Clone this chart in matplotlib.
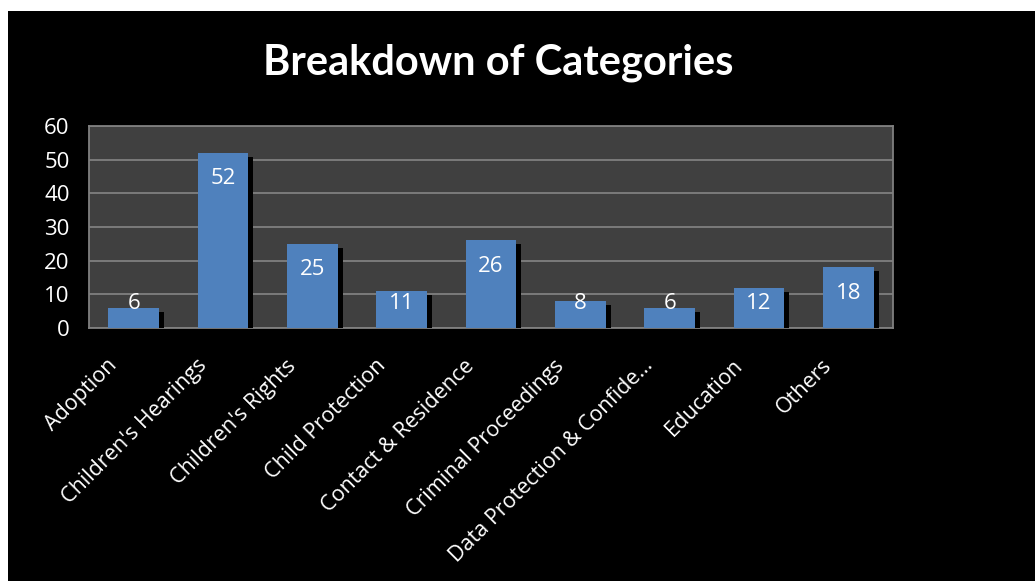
import matplotlib
matplotlib.use('Agg')
import matplotlib.pyplot as plt
import matplotlib.patches as patches
import matplotlib.patheffects as pe
from matplotlib.transforms import ScaledTranslation

categories = ['Adoption', "Children's Hearings", "Children's Rights", 'Child Protection',
              'Contact & Residence', 'Criminal Proceedings', 'Data Protection & Confide\u2026',
              'Education', 'Others']
counts = [6, 52, 25, 11, 26, 8, 6, 12, 18]
y_ticks = [0, 10, 20, 30, 40, 50, 60]

bar_color = '#4F81BD'
plot_bg = '#404040'
grid_color = '#808080'
font = 'Open Sans'

fig = plt.figure(figsize=(10.35, 5.81), dpi=100, facecolor='white')

# black slide background (thin white margin at top and left)
fig.patches.append(patches.Rectangle((8 / 1035, 0), 1, 570 / 581, transform=fig.transFigure,
                                     facecolor='black', edgecolor='none', zorder=-5))

ax = fig.add_axes([89 / 1035, 1 - 328 / 581, (893 - 89) / 1035, (328 - 126) / 581])
ax.set_facecolor(plot_bg)

x = list(range(len(categories)))
bars = ax.bar(x, counts, width=0.57, color=bar_color, zorder=3)
for b in bars:
    b.set_path_effects([pe.SimplePatchShadow(offset=(3.6, -2.9), shadow_rgbFace='black', alpha=1),
                        pe.Normal()])

ax.set_xlim(-0.5, len(categories) - 0.5)
ax.set_ylim(0, 60)
ax.set_yticks(y_ticks)
ax.yaxis.grid(True, color=grid_color, linewidth=1.3, zorder=1)
ax.set_axisbelow(True)
for s in ax.spines.values():
    s.set_color(grid_color)
    s.set_linewidth(1.3)

ax.tick_params(axis='y', length=0, pad=14, labelcolor='white', labelsize=16)
for lab in ax.get_yticklabels():
    lab.set_fontfamily(font)

# rotated category labels, right end just below-left of each bar
ax.set_xticks(x)
ax.set_xticklabels([])
ax.tick_params(axis='x', length=0)
offset = ScaledTranslation(-14 / 72, -25 / 72, fig.dpi_scale_trans)
for xi, name in zip(x, categories):
    ax.text(xi, 0, name, transform=ax.get_xaxis_transform() + offset, rotation=45,
            ha='right', va='center', rotation_mode='anchor', color='white',
            fontsize=15.5, fontfamily=font)

# value labels, inside end but kept above the baseline for short bars
for xi, v in zip(x, counts):
    ax.text(xi, max(v - 7.7, 7.4), str(v), ha='center', va='center', color='white',
            fontsize=16, fontfamily=font, zorder=4)

fig.text(0.481, 1 - 63 / 581, 'Breakdown of Categories', ha='center', va='center',
         color='white', fontsize=30, fontweight='bold', fontfamily='Lato', zorder=5)

fig.savefig('out.png', dpi=100, facecolor='white')
